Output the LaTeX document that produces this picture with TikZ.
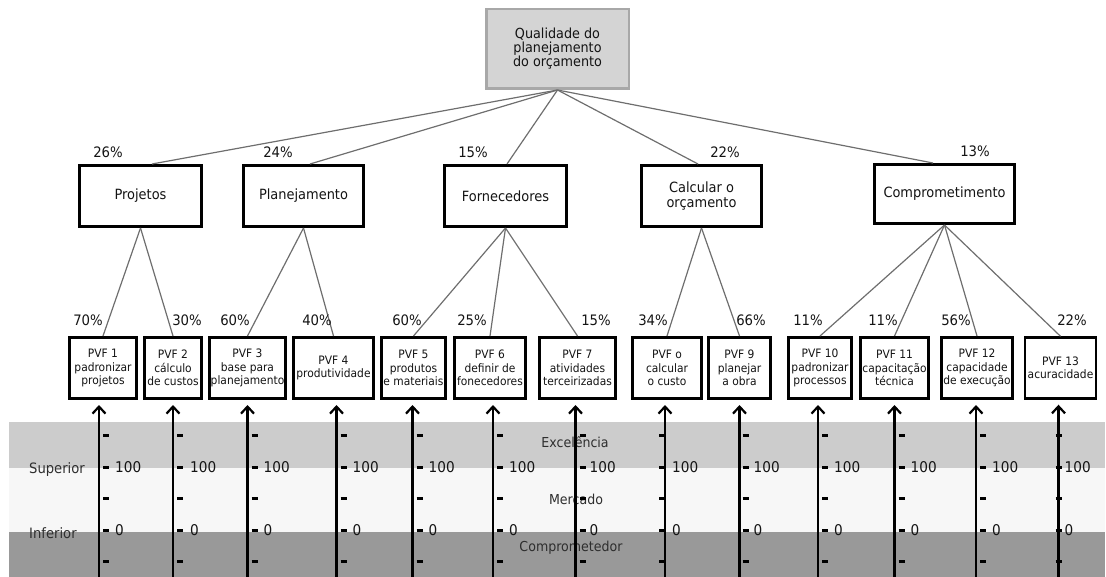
\documentclass[tikz,border=0pt]{standalone}
\usepackage{fontspec}
\setmainfont{DejaVu Sans}[FakeStretch=0.92]
\usetikzlibrary{arrows.meta}
\definecolor{bandhigh}{HTML}{CCCCCC}
\definecolor{bandmid}{HTML}{F7F7F7}
\definecolor{bandlow}{HTML}{999999}
\definecolor{rootfill}{HTML}{D4D4D4}
\definecolor{rootedge}{HTML}{A8A8A8}
\definecolor{linkgray}{HTML}{6E6E6E}
\definecolor{inktext}{HTML}{141414}
\definecolor{bandtext}{HTML}{2E2E2E}
\tikzset{
  rootbox/.style={draw=rootedge, fill=rootfill, line width=2.5pt, inner sep=0pt,
    align=center, text=inktext, font=\fontsize{13.9}{14}\selectfont},
  catbox/.style={draw=black, fill=white, line width=3pt, inner sep=0pt,
    minimum height=61pt, align=center, text=inktext, font=\fontsize{14.1}{14.5}\selectfont},
  pvfbox/.style={draw=black, fill=white, line width=3pt, inner sep=0pt,
    minimum height=61pt, align=center, text=inktext, font=\fontsize{11.6}{13.3}\selectfont},
  link/.style={draw=linkgray, line width=1.2pt},
  pct/.style={text=inktext, inner sep=0pt, font=\fontsize{14.4}{14.4}\selectfont},
  axis/.style={draw=black, line width=2.4pt, -{Straight Barb[length=7pt,width=13pt,line width=2.2pt]}},
  tickmark/.style={draw=black, line width=3pt},
  scalelabel/.style={text=inktext, inner sep=0pt, anchor=west, font=\fontsize{14.8}{14.8}\selectfont},
  bandlabel/.style={text=bandtext, inner sep=0pt, font=\fontsize{13.7}{13.7}\selectfont}
}
\begin{document}
\begin{tikzpicture}[x=1pt,y=-1pt]
\useasboundingbox (0,0) rectangle (1106,577);

% background bands of the rating scale
\fill[bandhigh] (9,422) rectangle (1105,468);
\fill[bandmid]  (9,468) rectangle (1105,532);
\fill[bandlow]  (9,532) rectangle (1105,577);
\node[bandlabel] (exc) at (575,442) {Excelência};
\node[bandlabel] (mer) at (576,499) {Mercado};
\node[bandlabel] (cmp) at (571,548) {Comprometedor};
\node[bandlabel, anchor=west, font=\fontsize{14.3}{14.3}\selectfont] (sup) at (29,470) {Superior};
\node[bandlabel, anchor=west, font=\fontsize{14.3}{14.3}\selectfont] (inf) at (29,533) {Inferior};
\coordinate (bottom) at (0,577);

% goal
\node[rootbox, minimum width=142.5pt, minimum height=79.5pt] (root) at (557.5,49)
  {Qualidade do\\planejamento\\do orçamento};

% criteria
\node[catbox, minimum width=122pt] (c1) at (140.5,196) {Projetos};
\node[catbox, minimum width=120pt] (c2) at (303.5,196) {Planejamento};
\node[catbox, minimum width=122pt] (c3) at (505.5,196) {Fornecedores};
\node[catbox, minimum width=120pt] (c4) at (701.5,196) {Calcular o\\orçamento};
\node[catbox, minimum width=140pt, minimum height=59pt] (c5) at (944.5,194) {Comprometimento};

% value functions
\node[pvfbox, minimum width=67pt] (p1) at (103,368) {PVF 1\\padronizar\\projetos};
\node[pvfbox, minimum width=57pt] (p2) at (173,368) {PVF 2\\cálculo\\de custos};
\node[pvfbox, minimum width=76pt] (p3) at (247.5,368) {PVF 3\\base para\\planejamento};
\node[pvfbox, minimum width=80pt] (p4) at (333.5,368) {PVF 4\\produtividade};
\node[pvfbox, minimum width=64pt] (p5) at (413.5,368) {PVF 5\\produtos\\e materiais};
\node[pvfbox, minimum width=71pt] (p6) at (490,368) {PVF 6\\definir de\\fonecedores};
\node[pvfbox, minimum width=76pt] (p7) at (577.5,368) {PVF 7\\atividades\\terceirizadas};
\node[pvfbox, minimum width=69pt] (p8) at (667,368) {PVF o\\calcular\\o custo};
\node[pvfbox, minimum width=62pt] (p9) at (739.5,368) {PVF 9\\planejar\\a obra};
\node[pvfbox, minimum width=63pt] (p10) at (820,368) {PVF 10\\padronizar\\processos};
\node[pvfbox, minimum width=68pt] (p11) at (894.5,368) {PVF 11\\capacitação\\técnica};
\node[pvfbox, minimum width=71pt] (p12) at (977,368) {PVF 12\\capacidade\\de execução};
\node[pvfbox, minimum width=71pt, line width=2.4pt] (p13) at (1060.5,368) {PVF 13\\acuracidade};

% goal to criteria
\draw[link] (root.south) -- ([xshift=11.5pt]c1.north);
\draw[link] (root.south) -- ([xshift=6.5pt]c2.north);
\draw[link] (root.south) -- ([xshift=1.5pt]c3.north);
\draw[link] (root.south) -- ([xshift=-3.5pt]c4.north);
\draw[link] (root.south) -- ([xshift=-11.5pt]c5.north);

% criteria to value functions
\draw[link] (c1.south) -- (p1.north);
\draw[link] (c1.south) -- (p2.north);
\draw[link] (c2.south) -- (p3.north);
\draw[link] (c2.south) -- (p4.north);
\draw[link] (c3.south) -- (p5.north);
\draw[link] (c3.south) -- (p6.north);
\draw[link] (c3.south) -- (p7.north);
\draw[link] (c4.south) -- (p8.north);
\draw[link] (c4.south) -- (p9.north);
\draw[link] (c5.south) -- (p10.north);
\draw[link] (c5.south) -- (p11.north);
\draw[link] (c5.south) -- (p12.north);
\draw[link] (c5.south) -- (p13.north);

% weights of the criteria
\node[pct] (w1) at (108,152) {26\%};
\node[pct] (w2) at (278,152) {24\%};
\node[pct] (w3) at (473,152) {15\%};
\node[pct] (w4) at (725,152) {22\%};
\node[pct] (w5) at (975,151) {13\%};

% weights of the value functions
\node[pct] (v1) at (88,320) {70\%};
\node[pct] (v2) at (187,320) {30\%};
\node[pct] (v3) at (235,320) {60\%};
\node[pct] (v4) at (317,320) {40\%};
\node[pct] (v5) at (407,320) {60\%};
\node[pct] (v6) at (472,320) {25\%};
\node[pct] (v7) at (596,320) {15\%};
\node[pct] (v8) at (653,320) {34\%};
\node[pct] (v9) at (751,320) {66\%};
\node[pct] (v10) at (808,320) {11\%};
\node[pct] (v11) at (883,320) {11\%};
\node[pct] (v12) at (956,320) {56\%};
\node[pct] (v13) at (1072,320) {22\%};

% rating scales: axis shift, tick offset, label offset
\foreach \n/\dx/\ta/\lx in {1/-4/4/16, 2/0/4/17, 3/0/4/16, 4/3/4/16, 5/-1/4/16,
    6/3/4/16, 7/-2/4/14, 8/-2/-6/7, 9/0/3/14, 10/-2/4/16, 11/0/4/16, 12/-1/4/16, 13/-2/-3/6} {
  \path ([xshift=\dx pt]p\n.south) coordinate (ax\n);
  \foreach \ty in {435,467,498,530,561}
    \draw[tickmark] (ax\n |- 0,\ty) ++(\ta,0) -- ++(6,0);
  \node[scalelabel] (hi\n) at ([xshift=\lx pt]ax\n |- 0,467) {100};
  \node[scalelabel] (lo\n) at ([xshift=\lx pt]ax\n |- 0,530) {0};
  \draw[axis] (ax\n |- bottom) -- ([yshift=-5pt]ax\n);
}
\end{tikzpicture}
\end{document}
